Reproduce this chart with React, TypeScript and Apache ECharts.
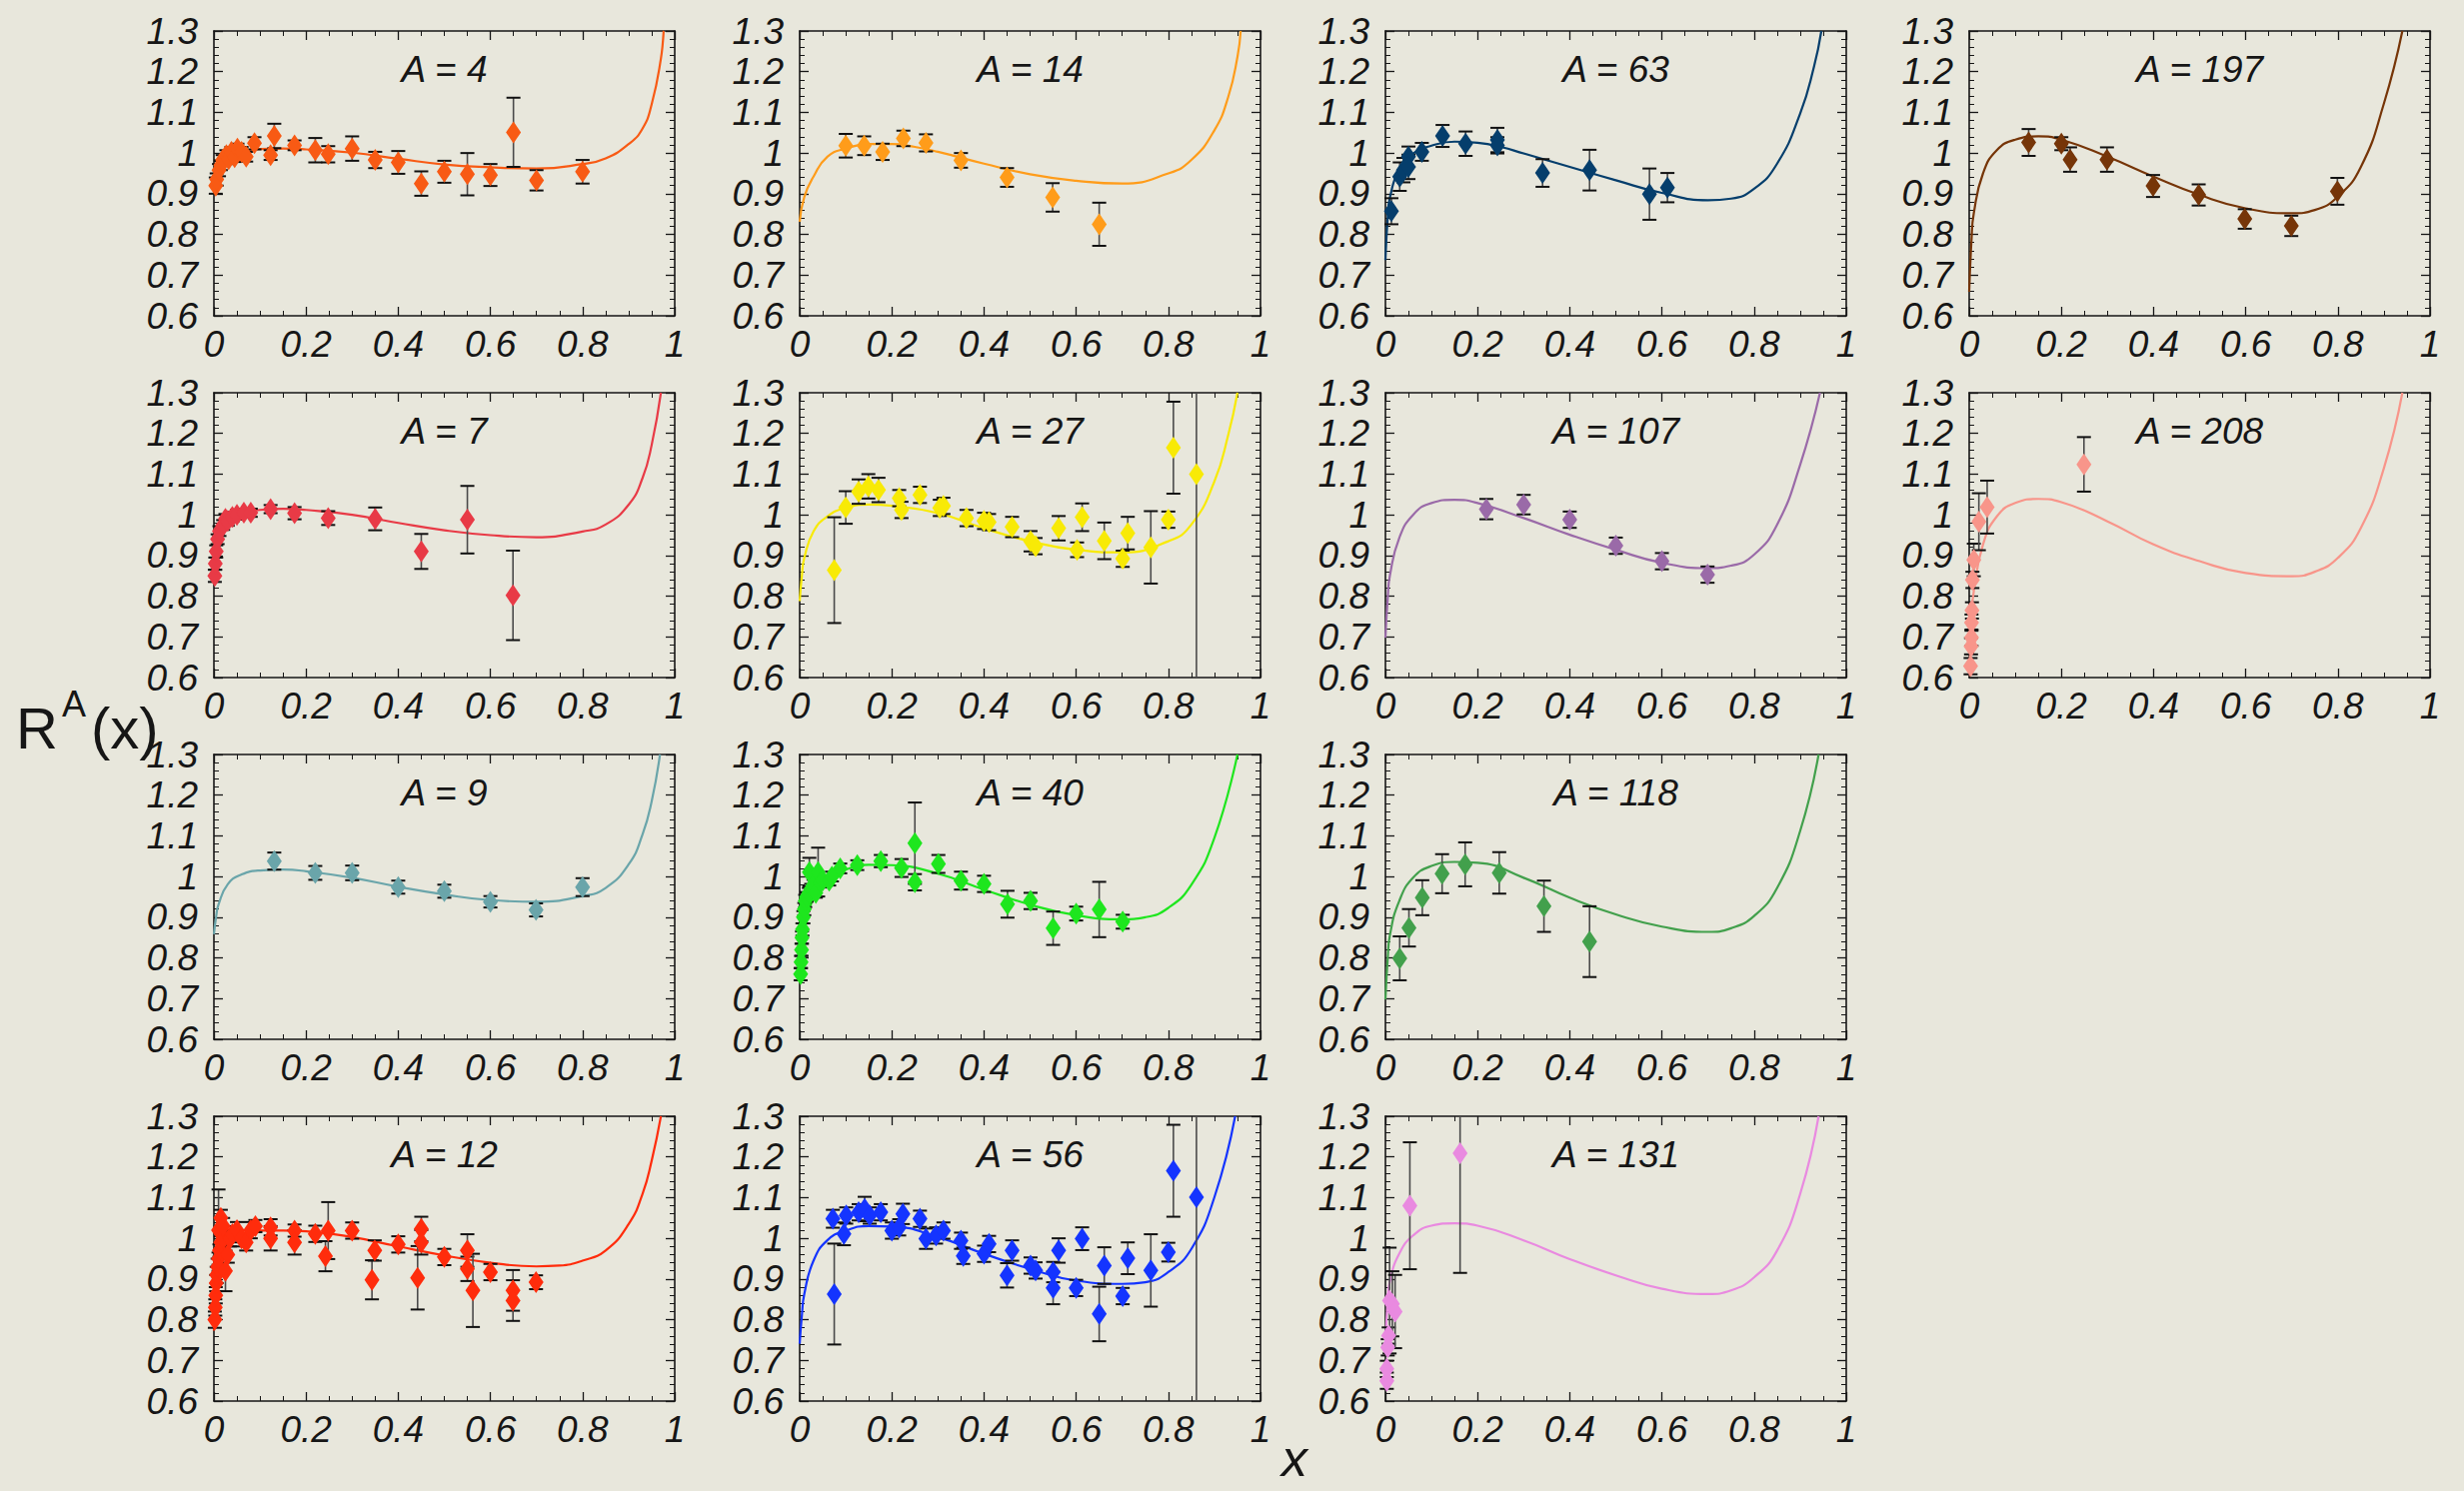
import React, { useEffect, useRef } from "react";
import * as echarts from "echarts";

// ---------- data: fitted curves [x, R] ----------
const curveA4 = [[0,0.909],[0.005,0.94],[0.02,0.974],[0.05,0.997],[0.1,1.01],[0.15,1.011],[0.2,1.009],[0.3,1.001],[0.4,0.986],[0.5,0.972],[0.6,0.965],[0.7,0.962],[0.8,0.973],[0.85,0.987],[0.9,1.022],[0.93,1.06],[0.95,1.12],[0.97,1.232],[0.976,1.3]];
const curveA14 = [[0,0.831],[0.01,0.892],[0.03,0.942],[0.06,0.991],[0.1,1.011],[0.15,1.022],[0.2,1.022],[0.25,1.015],[0.3,1.003],[0.4,0.974],[0.5,0.948],[0.6,0.932],[0.7,0.925],[0.8,0.95],[0.85,0.983],[0.9,1.056],[0.93,1.138],[0.95,1.236],[0.957,1.3]];
const curveA63 = [[0,0.737],[0.005,0.843],[0.01,0.892],[0.03,0.958],[0.06,0.999],[0.1,1.018],[0.15,1.028],[0.2,1.025],[0.25,1.015],[0.3,0.999],[0.4,0.966],[0.5,0.933],[0.6,0.902],[0.7,0.884],[0.75,0.888],[0.8,0.912],[0.85,0.974],[0.9,1.097],[0.93,1.212],[0.946,1.3]];
const curveA197 = [[0,0.659],[0.005,0.786],[0.01,0.852],[0.03,0.95],[0.06,1.007],[0.1,1.033],[0.15,1.041],[0.2,1.033],[0.3,0.991],[0.4,0.942],[0.5,0.897],[0.6,0.864],[0.7,0.852],[0.75,0.86],[0.8,0.893],[0.85,0.966],[0.9,1.122],[0.94,1.3]];
const curveA7 = [[0,0.841],[0.005,0.91],[0.01,0.951],[0.03,0.988],[0.06,1.004],[0.1,1.012],[0.15,1.015],[0.2,1.012],[0.3,1.0],[0.4,0.98],[0.5,0.962],[0.6,0.95],[0.7,0.945],[0.8,0.959],[0.85,0.976],[0.9,1.025],[0.93,1.09],[0.95,1.172],[0.97,1.3]];
const curveA27 = [[0,0.788],[0.005,0.853],[0.01,0.894],[0.03,0.959],[0.06,0.996],[0.1,1.017],[0.15,1.025],[0.2,1.022],[0.3,1.004],[0.4,0.967],[0.5,0.935],[0.6,0.914],[0.7,0.908],[0.8,0.935],[0.85,0.976],[0.9,1.082],[0.93,1.196],[0.95,1.3]];
const curveA107 = [[0,0.698],[0.005,0.796],[0.01,0.853],[0.03,0.943],[0.06,1.0],[0.1,1.029],[0.15,1.037],[0.2,1.029],[0.3,0.992],[0.4,0.951],[0.5,0.914],[0.6,0.882],[0.7,0.869],[0.75,0.875],[0.8,0.902],[0.85,0.976],[0.9,1.123],[0.943,1.3]];
const curveA208 = [[0,0.604],[0.005,0.747],[0.01,0.812],[0.03,0.927],[0.06,0.996],[0.1,1.029],[0.15,1.039],[0.2,1.031],[0.3,0.984],[0.4,0.927],[0.5,0.886],[0.6,0.857],[0.7,0.849],[0.75,0.86],[0.8,0.894],[0.85,0.968],[0.9,1.115],[0.94,1.3]];
const curveA9 = [[0,0.858],[0.005,0.903],[0.01,0.931],[0.03,0.981],[0.06,1.005],[0.1,1.015],[0.15,1.017],[0.2,1.013],[0.3,0.997],[0.4,0.975],[0.5,0.956],[0.6,0.942],[0.7,0.938],[0.8,0.952],[0.85,0.972],[0.9,1.03],[0.93,1.103],[0.95,1.185],[0.968,1.3]];
const curveA40 = [[0,0.743],[0.005,0.816],[0.01,0.866],[0.03,0.948],[0.06,0.993],[0.1,1.017],[0.15,1.029],[0.2,1.028],[0.3,1.007],[0.4,0.968],[0.5,0.931],[0.6,0.905],[0.7,0.895],[0.75,0.9],[0.8,0.923],[0.85,0.98],[0.9,1.095],[0.95,1.3]];
const curveA118 = [[0,0.698],[0.005,0.8],[0.01,0.858],[0.03,0.94],[0.06,0.997],[0.1,1.026],[0.15,1.036],[0.2,1.034],[0.3,0.997],[0.4,0.948],[0.5,0.907],[0.6,0.877],[0.7,0.864],[0.75,0.873],[0.8,0.903],[0.85,0.972],[0.9,1.112],[0.94,1.3]];
const curveA12 = [[0,0.773],[0.005,0.872],[0.01,0.921],[0.03,0.986],[0.06,1.011],[0.1,1.019],[0.15,1.019],[0.2,1.017],[0.3,1.003],[0.4,0.98],[0.5,0.958],[0.6,0.94],[0.7,0.931],[0.75,0.933],[0.8,0.945],[0.85,0.97],[0.9,1.035],[0.93,1.109],[0.95,1.191],[0.97,1.3]];
const curveA56 = [[0,0.741],[0.005,0.814],[0.01,0.863],[0.03,0.945],[0.06,0.995],[0.1,1.019],[0.15,1.03],[0.2,1.029],[0.3,1.003],[0.4,0.962],[0.5,0.925],[0.6,0.896],[0.7,0.888],[0.75,0.892],[0.8,0.917],[0.85,0.974],[0.9,1.101],[0.945,1.3]];
const curveA131 = [[0,0.74],[0.005,0.847],[0.01,0.896],[0.03,0.962],[0.06,1.007],[0.1,1.031],[0.15,1.037],[0.2,1.031],[0.3,0.995],[0.4,0.949],[0.5,0.909],[0.6,0.876],[0.7,0.863],[0.75,0.872],[0.8,0.904],[0.85,0.97],[0.9,1.109],[0.94,1.3]];

// ---------- data: measurements [x, R, error] ----------
const pointsA4 = [[0.004,0.92,0.02],[0.006,0.935,0.015],[0.011,0.958,0.015],[0.015,0.97,0.012],[0.019,0.983,0.012],[0.027,0.995,0.012],[0.032,0.985,0.012],[0.038,1.003,0.012],[0.045,0.99,0.012],[0.051,1.011,0.012],[0.06,1.003,0.012],[0.07,0.991,0.012],[0.088,1.024,0.015],[0.123,0.995,0.012],[0.131,1.042,0.03],[0.175,1.019,0.012],[0.22,1.007,0.03],[0.248,0.997,0.02],[0.3,1.011,0.03],[0.35,0.983,0.02],[0.4,0.977,0.028],[0.45,0.925,0.03],[0.5,0.954,0.027],[0.55,0.948,0.052],[0.6,0.946,0.027],[0.65,1.051,0.085],[0.7,0.933,0.025],[0.8,0.954,0.029]];
const pointsA14 = [[0.1,1.018,0.029],[0.14,1.018,0.023],[0.18,1.003,0.02],[0.225,1.036,0.019],[0.274,1.025,0.021],[0.35,0.982,0.018],[0.45,0.94,0.023],[0.549,0.891,0.035],[0.65,0.825,0.053]];
const pointsA63 = [[0.013,0.857,0.032],[0.031,0.942,0.035],[0.039,0.958,0.03],[0.05,0.991,0.025],[0.05,0.966,0.03],[0.079,1.003,0.022],[0.124,1.042,0.027],[0.174,1.023,0.03],[0.243,1.032,0.03],[0.243,1.019,0.02],[0.341,0.951,0.034],[0.443,0.958,0.05],[0.573,0.899,0.063],[0.612,0.915,0.036]];
const pointsA197 = [[0.129,1.026,0.033],[0.2,1.023,0.016],[0.219,0.984,0.03],[0.299,0.984,0.03],[0.399,0.919,0.027],[0.498,0.897,0.026],[0.598,0.838,0.024],[0.699,0.821,0.025],[0.799,0.906,0.033]];
const pointsA7 = [[0.002,0.85,0.015],[0.003,0.88,0.015],[0.005,0.91,0.015],[0.008,0.94,0.012],[0.012,0.96,0.012],[0.02,0.975,0.012],[0.025,0.99,0.012],[0.03,0.985,0.012],[0.04,0.995,0.012],[0.05,1.0,0.012],[0.065,1.005,0.01],[0.08,1.005,0.01],[0.123,1.014,0.01],[0.175,1.004,0.015],[0.248,0.992,0.017],[0.35,0.99,0.028],[0.45,0.91,0.043],[0.55,0.988,0.083],[0.649,0.802,0.11]];
const pointsA27 = [[0.075,0.864,0.13],[0.1,1.018,0.04],[0.128,1.057,0.03],[0.149,1.07,0.03],[0.171,1.061,0.03],[0.216,1.041,0.02],[0.221,1.012,0.02],[0.261,1.049,0.02],[0.304,1.017,0.02],[0.312,1.022,0.02],[0.362,0.992,0.02],[0.4,0.985,0.02],[0.411,0.982,0.02],[0.461,0.97,0.025],[0.501,0.935,0.025],[0.512,0.923,0.02],[0.562,0.967,0.03],[0.602,0.914,0.018],[0.613,0.994,0.034],[0.661,0.936,0.045],[0.701,0.892,0.02],[0.712,0.955,0.04],[0.762,0.92,0.089],[0.8,0.988,0.02],[0.811,1.165,0.113],[0.861,1.1,0.6]];
const pointsA107 = [[0.219,1.014,0.025],[0.3,1.025,0.024],[0.4,0.988,0.02],[0.5,0.924,0.02],[0.6,0.886,0.02],[0.699,0.853,0.02]];
const pointsA208 = [[0.003,0.628,0.02],[0.004,0.677,0.02],[0.005,0.698,0.02],[0.005,0.735,0.02],[0.006,0.765,0.02],[0.007,0.84,0.02],[0.01,0.889,0.04],[0.021,0.983,0.07],[0.039,1.019,0.065],[0.249,1.124,0.067]];
const pointsA9 = [[0.131,1.038,0.021],[0.22,1.009,0.017],[0.3,1.009,0.018],[0.4,0.974,0.016],[0.5,0.964,0.016],[0.6,0.938,0.014],[0.699,0.918,0.016],[0.8,0.974,0.022]];
const pointsA40 = [[0.002,0.76,0.015],[0.003,0.79,0.015],[0.004,0.82,0.015],[0.005,0.85,0.015],[0.006,0.87,0.015],[0.008,0.9,0.015],[0.01,0.92,0.015],[0.012,0.94,0.015],[0.015,0.95,0.012],[0.02,0.96,0.012],[0.021,1.011,0.035],[0.025,0.97,0.012],[0.03,0.98,0.012],[0.035,0.96,0.012],[0.04,1.011,0.06],[0.045,0.985,0.012],[0.05,0.99,0.012],[0.064,0.99,0.012],[0.07,1.0,0.012],[0.088,1.02,0.012],[0.125,1.028,0.012],[0.176,1.038,0.015],[0.221,1.021,0.022],[0.25,1.082,0.1],[0.25,0.986,0.02],[0.301,1.031,0.022],[0.35,0.99,0.022],[0.4,0.982,0.02],[0.451,0.932,0.033],[0.501,0.94,0.02],[0.55,0.873,0.041],[0.6,0.909,0.017],[0.65,0.919,0.068],[0.701,0.889,0.017]];
const pointsA118 = [[0.031,0.799,0.054],[0.051,0.874,0.046],[0.08,0.948,0.043],[0.123,1.007,0.048],[0.173,1.03,0.054],[0.247,1.009,0.051],[0.344,0.927,0.063],[0.443,0.84,0.087]];
const pointsA12 = [[0.002,0.8,0.02],[0.003,0.83,0.02],[0.004,0.86,0.02],[0.005,0.89,0.02],[0.006,0.91,0.02],[0.008,0.93,0.02],[0.01,0.95,0.015],[0.01,1.02,0.1],[0.012,0.97,0.015],[0.015,1.05,0.02],[0.015,0.99,0.015],[0.02,1.0,0.015],[0.02,1.03,0.02],[0.025,0.92,0.05],[0.03,0.96,0.02],[0.035,1.0,0.02],[0.04,1.01,0.02],[0.05,1.02,0.02],[0.06,1.0,0.02],[0.07,0.99,0.02],[0.08,1.02,0.02],[0.09,1.03,0.015],[0.123,1.027,0.02],[0.123,1.0,0.03],[0.175,1.019,0.015],[0.175,0.99,0.03],[0.22,1.011,0.02],[0.242,0.956,0.037],[0.248,1.019,0.07],[0.3,1.019,0.02],[0.343,0.898,0.048],[0.349,0.97,0.025],[0.4,0.985,0.02],[0.442,0.903,0.078],[0.45,1.023,0.03],[0.45,0.99,0.03],[0.5,0.954,0.02],[0.55,0.97,0.04],[0.55,0.925,0.03],[0.562,0.872,0.09],[0.6,0.917,0.02],[0.649,0.872,0.05],[0.649,0.847,0.05],[0.699,0.892,0.017]];
const pointsA56 = [[0.072,1.048,0.022],[0.075,0.863,0.124],[0.096,1.011,0.028],[0.101,1.056,0.02],[0.128,1.064,0.02],[0.141,1.072,0.03],[0.152,1.056,0.02],[0.176,1.064,0.02],[0.2,1.019,0.02],[0.216,1.027,0.02],[0.224,1.06,0.025],[0.261,1.048,0.02],[0.274,0.999,0.025],[0.296,1.007,0.02],[0.312,1.019,0.02],[0.35,0.994,0.02],[0.355,0.957,0.02],[0.4,0.962,0.02],[0.411,0.986,0.02],[0.45,0.909,0.03],[0.461,0.97,0.025],[0.501,0.933,0.02],[0.512,0.921,0.02],[0.55,0.917,0.025],[0.55,0.878,0.04],[0.562,0.97,0.03],[0.6,0.878,0.02],[0.613,0.999,0.028],[0.65,0.814,0.067],[0.661,0.933,0.045],[0.701,0.858,0.02],[0.712,0.951,0.039],[0.762,0.921,0.089],[0.8,0.966,0.023],[0.811,1.166,0.113],[0.861,1.101,0.6]];
const pointsA131 = [[0.003,0.65,0.02],[0.003,0.679,0.02],[0.005,0.732,0.02],[0.007,0.761,0.02],[0.009,0.847,0.13],[0.015,0.839,0.08],[0.021,0.82,0.09],[0.053,1.08,0.156],[0.162,1.209,0.294]];

const panelLabels = ["A = 4","A = 14","A = 63","A = 197","A = 7","A = 27","A = 107","A = 208","A = 9","A = 40","A = 118","A = 12","A = 56","A = 131"];
const panelColors = ["#f85a14","#ff9c1a","#053e6c","#763508","#e83a46","#f8ea06","#9a6aa8","#f8958a","#6aa5aa","#1ee61e","#42a04c","#ff2c0c","#1434ff","#e98ae0"];
const panelCurves = [curveA4,curveA14,curveA63,curveA197,curveA7,curveA27,curveA107,curveA208,curveA9,curveA40,curveA118,curveA12,curveA56,curveA131];
const panelPoints = [pointsA4,pointsA14,pointsA63,pointsA197,pointsA7,pointsA27,pointsA107,pointsA208,pointsA9,pointsA40,pointsA118,pointsA12,pointsA56,pointsA131];
const xTicks = [0, 0.2, 0.4, 0.6, 0.8, 1];
const yTicks = [0.6, 0.7, 0.8, 0.9, 1, 1.1, 1.2, 1.3];

// ---------- layout ----------
const COL_LEFT = [214, 800, 1386, 1970];
const ROW_TOP = [31, 393, 755, 1117];
const PANEL_POS = [[0,0],[0,1],[0,2],[0,3],[1,0],[1,1],[1,2],[1,3],[2,0],[2,1],[2,2],[3,0],[3,1],[3,2]];
const W = 461;
const H = 285;
const FONT = "'Liberation Sans', Arial, Helvetica, sans-serif";
const BG = "#e8e7dc";
const INK = "#161616";

const fmt = (v: number) => String(Math.round(v * 10) / 10);

export default function App() {
  const ref = useRef<HTMLDivElement>(null);
  useEffect(() => {
    if (!ref.current) return;
    const chart = echarts.init(ref.current, null, { renderer: "svg" });
    const yMin = yTicks[0];
    const yMax = yTicks[yTicks.length - 1];
    const grids: any[] = [];
    const xAxes: any[] = [];
    const yAxes: any[] = [];
    const series: any[] = [];
    const graphic: any[] = [];
    const axisLine = { show: true, onZero: false, lineStyle: { color: INK, width: 1.6 } };
    const axisTick = { show: true, inside: true, length: 9, lineStyle: { color: INK, width: 1.3 } };
    const labelStyle = { fontSize: 37, fontFamily: FONT, fontStyle: "italic", color: INK };

    panelLabels.forEach((label, i) => {
      const [r, c] = PANEL_POS[i];
      const left = COL_LEFT[c];
      const top = ROW_TOP[r];
      const color = panelColors[i];
      grids.push({ left, top, width: W, height: H, containLabel: false });
      const xBase = { gridIndex: i, type: "value", min: xTicks[0], max: xTicks[xTicks.length - 1], interval: 0.2, axisLine, axisTick, minorTick: { show: true, splitNumber: 4, length: 5, lineStyle: { color: INK, width: 1 } }, splitLine: { show: false } };
      const yBase = { gridIndex: i, type: "value", min: yMin, max: yMax, interval: 0.1, axisLine, axisTick, minorTick: { show: true, splitNumber: 5, length: 5, lineStyle: { color: INK, width: 1 } }, splitLine: { show: false } };
      xAxes.push({ ...xBase, position: "bottom", axisLabel: { ...labelStyle, margin: 10, formatter: fmt } });
      xAxes.push({ ...xBase, position: "top", axisLabel: { show: false } });
      yAxes.push({ ...yBase, position: "left", axisLabel: { ...labelStyle, margin: 16, formatter: fmt } });
      yAxes.push({ ...yBase, position: "right", axisLabel: { show: false } });

      series.push({
        type: "line",
        xAxisIndex: 2 * i,
        yAxisIndex: 2 * i,
        data: panelCurves[i],
        showSymbol: false,
        smooth: 0.5,
        clip: true,
        lineStyle: { color, width: 2.2 },
        silent: true,
        z: 2,
      });
      series.push({
        type: "custom",
        xAxisIndex: 2 * i,
        yAxisIndex: 2 * i,
        coordinateSystem: "cartesian2d",
        data: panelPoints[i],
        encode: { x: 0, y: 1 },
        silent: true,
        z: 3,
        renderItem: (_p: any, api: any) => {
          const x = api.value(0);
          const y = api.value(1);
          const e = api.value(2);
          const hiV = Math.min(yMax, y + e);
          const loV = Math.max(yMin, y - e);
          const a = api.coord([x, hiV]);
          const b = api.coord([x, loV]);
          const children: any[] = [
            { type: "line", shape: { x1: a[0], y1: a[1], x2: b[0], y2: b[1] }, style: { stroke: "#4a4a4a", lineWidth: 1.6 } },
          ];
          if (y + e <= yMax) children.push({ type: "line", shape: { x1: a[0] - 7, y1: a[1], x2: a[0] + 7, y2: a[1] }, style: { stroke: "#111", lineWidth: 2 } });
          if (y - e >= yMin) children.push({ type: "line", shape: { x1: b[0] - 7, y1: b[1], x2: b[0] + 7, y2: b[1] }, style: { stroke: "#111", lineWidth: 2 } });
          return { type: "group", children };
        },
      });
      series.push({
        type: "scatter",
        xAxisIndex: 2 * i,
        yAxisIndex: 2 * i,
        data: panelPoints[i].map((p) => [p[0], p[1]]),
        symbol: "diamond",
        symbolSize: [15, 22],
        itemStyle: { color, opacity: 1 },
        clip: true,
        silent: true,
        z: 4,
      });
      graphic.push({
        type: "text",
        x: left + W / 2,
        y: top + 38,
        style: { text: label, fontSize: 37, fontFamily: FONT, fontStyle: "italic", fill: INK, align: "center", verticalAlign: "middle" },
        z: 10,
      });
    });

    graphic.push({ type: "text", x: 16, y: 728, style: { text: "R", fontSize: 58, fontFamily: FONT, fill: INK, align: "left", verticalAlign: "middle" } });
    graphic.push({ type: "text", x: 62, y: 704, style: { text: "A", fontSize: 36, fontFamily: FONT, fill: INK, align: "left", verticalAlign: "middle" } });
    graphic.push({ type: "text", x: 91, y: 728, style: { text: "(x)", fontSize: 58, fontFamily: FONT, fill: INK, align: "left", verticalAlign: "middle" } });
    graphic.push({ type: "text", x: 1295, y: 1459, style: { text: "x", fontSize: 52, fontFamily: FONT, fontStyle: "italic", fill: INK, align: "center", verticalAlign: "middle" } });

    chart.setOption({
      animation: false,
      backgroundColor: BG,
      grid: grids,
      xAxis: xAxes,
      yAxis: yAxes,
      series,
      graphic,
    });
    return () => chart.dispose();
  }, []);

  return (
    <div style={{ position: "fixed", left: 0, top: 0, width: 2465, height: 1492, background: BG }}>
      <div ref={ref} style={{ width: 2465, height: 1492 }} />
    </div>
  );
}
